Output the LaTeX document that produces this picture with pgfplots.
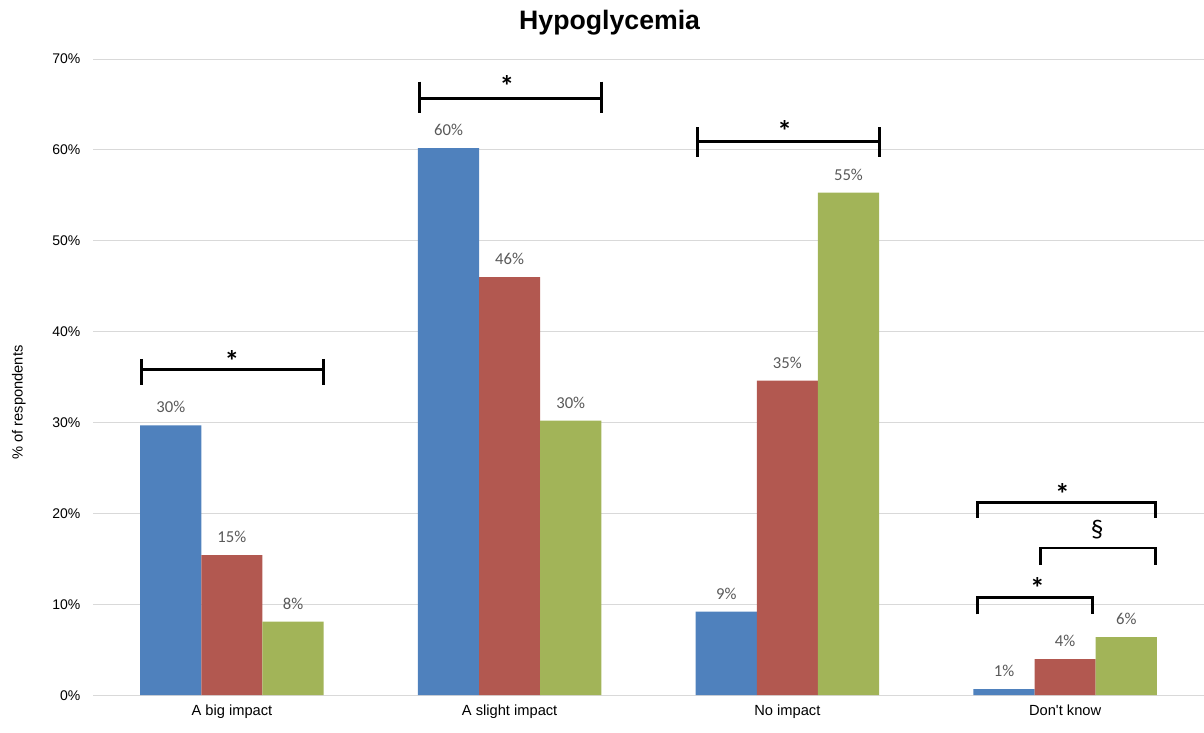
\documentclass[border=0pt]{standalone}
\usepackage{pgfplots}
\pgfplotsset{compat=1.18}
\usepackage{fontspec}
\setmainfont{Liberation Sans}
\newfontfamily\lblfont{Carlito}
\definecolor{cblue}{RGB}{79,129,189}
\definecolor{cred}{RGB}{178,88,80}
\definecolor{cgreen}{RGB}{162,180,88}
\definecolor{cgrid}{RGB}{217,217,217}
\definecolor{clabel}{RGB}{89,89,89}
\tikzset{sigstar/.style={font=\lblfont\bfseries\fontsize{22}{24}\selectfont, inner sep=0pt}}
\begin{document}
\begin{tikzpicture}
\begin{axis}[
  scale only axis,
  width=833pt, height=477pt,
  ybar,
  bar width=0.22,
  xmin=-0.5, xmax=3.5,
  ymin=0, ymax=70,
  ytick={0,10,...,70},
  yticklabel={\pgfmathprintnumber{\tick}\%},
  /pgf/number format/assume math mode=true,
  xtick={0,1,2,3},
  xticklabels={A big impact, A slight impact, No impact, Don\textquotesingle t know},
  major tick length=0pt,
  ymajorgrids,
  grid style={cgrid, line width=0.75pt},
  axis line style={draw=none},
  tick label style={font=\fontsize{10.5}{12}\selectfont},
  xticklabel style={font=\fontsize{11}{13}\selectfont, yshift=-4pt},
  yticklabel style={xshift=-6pt},
  ylabel={\% of respondents},
  ylabel style={font=\fontsize{11}{13}\selectfont, at={(rel axis cs:0,0.46)}, anchor=south, yshift=47pt},
  clip=false,
  barlbl/.style={nodes near coords={\pgfmathprintnumber[fixed,precision=0]{\pgfplotspointmeta}\%},
    every node near coord/.append style={font=\lblfont\fontsize{12.5}{14}\selectfont, text=clabel, inner sep=0pt, yshift=9pt}},
  brk/.style={sharp plot, black, line width=2.2pt, no markers, forget plot},
]
\addplot[barlbl, fill=cblue, draw=none, bar shift=-0.22] coordinates {(0,29.7) (1,60.2) (2,9.2) (3,0.66)};
\addplot[barlbl, fill=cred, draw=none, bar shift=0] coordinates {(0,15.4) (1,46.0) (2,34.6) (3,3.96)};
\addplot[barlbl, fill=cgreen, draw=none, bar shift=0.22] coordinates {(0,8.1) (1,30.2) (2,55.3) (3,6.4)};
% group 0 bracket
\addplot[brk] coordinates {(-0.324,35.8) (0.331,35.8)};
\addplot[brk] coordinates {(-0.324,37.0) (-0.324,34.1)};
\addplot[brk] coordinates {(0.331,37.0) (0.331,34.1)};
% group 1
\addplot[brk] coordinates {(0.676,65.7) (1.331,65.7)};
\addplot[brk] coordinates {(0.676,67.5) (0.676,64.1)};
\addplot[brk] coordinates {(1.331,67.5) (1.331,64.1)};
% group 2
\addplot[brk] coordinates {(1.676,60.9) (2.331,60.9)};
\addplot[brk] coordinates {(1.676,62.5) (1.676,59.2)};
\addplot[brk] coordinates {(2.331,62.5) (2.331,59.2)};
% group 3
\addplot[brk] coordinates {(2.683,19.5) (2.683,21.2) (3.324,21.2) (3.324,19.5)};
\addplot[brk] coordinates {(2.910,14.3) (2.910,16.2) (3.324,16.2) (3.324,14.3)};
\addplot[brk] coordinates {(2.683,8.9) (2.683,10.8) (3.097,10.8) (3.097,8.9)};
\node[sigstar] at (axis cs:0,36.8) {*};
\node[sigstar] at (axis cs:0.99,67.0) {*};
\node[sigstar] at (axis cs:1.99,62.1) {*};
\node[sigstar] at (axis cs:2.99,22.1) {*};
\node[font=\lblfont\fontsize{19}{20}\selectfont] at (axis cs:3.115,18.2) {§};
\node[sigstar] at (axis cs:2.9,11.8) {*};
\node[font=\bfseries\fontsize{20}{24}\selectfont] at (rel axis cs:0.465,1) [yshift=27pt] {Hypoglycemia};
\end{axis}
\pgfresetboundingbox
\path ([xshift=-69.75pt,yshift=-27.75pt]current axis.south west) rectangle ([yshift=44.25pt]current axis.north east);
\end{tikzpicture}
\end{document}
